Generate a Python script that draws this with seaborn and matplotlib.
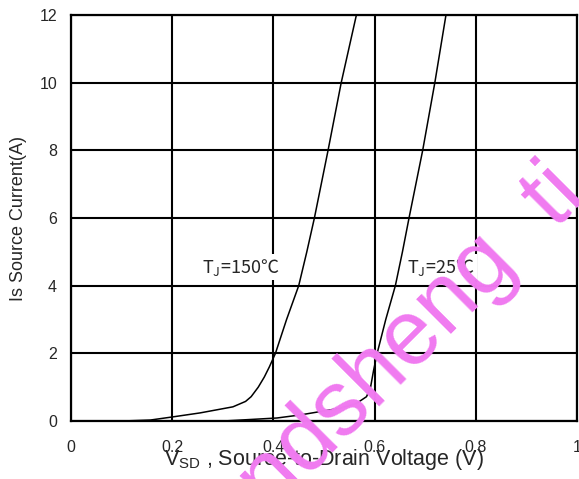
import pandas as pd
import matplotlib.pyplot as plt
import seaborn as sns

# Source current vs source-to-drain voltage
v_150 = [0.10, 0.157, 0.20, 0.255, 0.32, 0.345, 0.356, 0.37, 0.382, 0.392, 0.404,
         0.426, 0.45, 0.466, 0.481, 0.508, 0.534, 0.564]
i_150 = [0.0, 0.03, 0.12, 0.24, 0.42, 0.58, 0.72, 1.0, 1.3, 1.6, 2.0,
         3.0, 4.0, 5.0, 6.0, 8.0, 10.0, 12.0]

v_25 = [0.30, 0.407, 0.453, 0.532, 0.564, 0.584, 0.592, 0.598, 0.605,
        0.622, 0.641, 0.655, 0.668, 0.695, 0.719, 0.741]
i_25 = [0.0, 0.09, 0.18, 0.38, 0.52, 0.72, 1.0, 1.5, 2.0,
        3.0, 4.0, 5.0, 6.0, 8.0, 10.0, 12.0]

x_ticks = [0, 0.2, 0.4, 0.6, 0.8, 1]
x_tick_labels = ["0", "0.2", "0.4", "0.6", "0.8", "1"]
y_ticks = [0, 2, 4, 6, 8, 10, 12]

df = pd.concat([
    pd.DataFrame({"v": v_150, "i": i_150, "tj": "150"}),
    pd.DataFrame({"v": v_25, "i": i_25, "tj": "25"}),
])

sns.set_style("white")
plt.rcParams["font.family"] = ["Liberation Sans", "DejaVu Sans"]

fig = plt.figure(figsize=(5.79, 4.79), dpi=100)
ax = fig.add_axes([0.1226, 0.121, 0.874, 0.8477])

sns.lineplot(data=df, x="v", y="i", units="tj", estimator=None, sort=False,
             color="black", linewidth=1.1, ax=ax, zorder=3)

ax.set_xlim(0, 1)
ax.set_ylim(0, 12)
ax.set_xticks(x_ticks)
ax.set_xticklabels(x_tick_labels)
ax.set_yticks(y_ticks)
ax.tick_params(axis="both", length=0, labelsize=11.5)
ax.tick_params(axis="x", pad=14)
ax.tick_params(axis="y", pad=10)
ax.grid(True, color="black", linewidth=1.5)
for s in ax.spines.values():
    s.set_color("black")
    s.set_linewidth(1.6)

ax.set_xlabel("V$_{\\mathregular{SD}}$ , Source-to-Drain Voltage (V)", fontsize=15.5, labelpad=-6)
ax.set_ylabel("Is Source Current(A)", fontsize=13, labelpad=9)

lab_font = "Noto Sans CJK SC"
ax.text(0.258, 4.55, "T$_{\\mathregular{J}}$=150\u2103", fontsize=13, va="center", family=lab_font,
        bbox=dict(facecolor="white", edgecolor="none", pad=2), zorder=4)
ax.text(0.664, 4.55, "T$_{\\mathregular{J}}$=25\u2103", fontsize=13, va="center", family=lab_font,
        bbox=dict(facecolor="white", edgecolor="none", pad=2), zorder=4)

# watermark
fig.text(0.7116, 0.2923, "ndsheng  ti", fontsize=66, color="#f07af0", rotation=45,
         rotation_mode="anchor", ha="center", va="center", family="Liberation Sans", zorder=10)

fig.savefig("out.png", dpi=100)
